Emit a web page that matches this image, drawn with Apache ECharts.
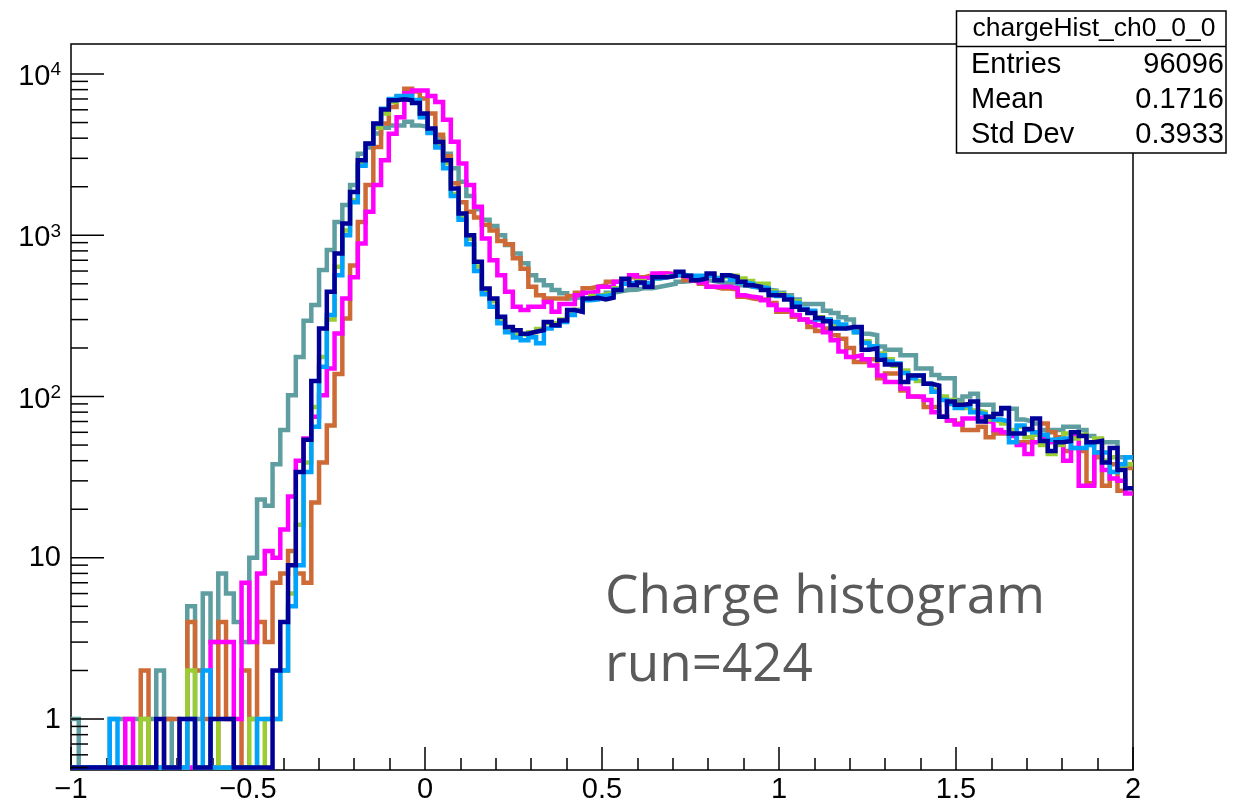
<!DOCTYPE html>
<html>
<head>
<meta charset="utf-8">
<script src="https://cdn.jsdelivr.net/npm/echarts@6/dist/echarts.min.js"></script>
<style>
html,body{margin:0;padding:0;background:#fff;}
#chart{width:1234px;height:802px;}
</style>
</head>
<body>
<div id="chart"></div>
<script>
// ---- histogram binning (bin edges from -1 to 2) ----
const binLow = -1;
const binHigh = 2;
const nBins = 137;

// ---- bin contents (0 = empty bin) ----
const tealCounts = [
  1,0,0,0,0,1,1,1,1,1, 1,2,1,0,0,5,1,6,3,8,
  6,4,3,10,23,21,38,62,102,176, 295,369,608,809,1210,1540,2050,3200,3500,4270,
  4650,4800,4800,5050,4800,4700,4400,4000,3200,2600, 2150,1750,1450,1250,1140,1000,870,771,670,566,
  527,490,457,437,405,415,400,410,420,440, 450,457,460,470,470,479,490,500,515,520,
  527,527,520,510,505,505,490,479,470,460, 455,440,425,400,375,375,375,340,330,310,
  300,260,245,240,204,195,195,180,180,149, 149,136,130,130,95,100,104,89,89,78,
  84,84,72,70,68,62,62,62,65,65, 62,57,52,52,52,42,42
];
const orangeCounts = [
  0,0,0,0,0,0,0,0,0,2, 0,0,1,1,0,4,2,1,0,4,
  1,0,2,1,4,3,7,8,11,8, 7,22,39,66,138,305,650,1210,2050,3530,
  4930,6250,7200,8100,7800,7050,5700,4200,3100,2100, 1600,1400,1290,1160,1070,920,880,720,620,479,
  425,405,405,405,420,440,470,479,490,515, 515,527,550,550,565,580,580,575,560,527,
  515,500,479,468,468,460,415,405,400,400, 380,335,335,312,300,270,255,264,240,228,
  200,164,164,170,130,139,139,109,100,99, 86,86,75,71,68,62,62,65,56,59,
  59,59,52,52,58,68,60,56,46,48, 46,29,42,28,38,26,36
];
const magentaCounts = [
  0,0,0,0,0,0,0,1,0,0, 0,0,0,0,0,0,0,0,3,3,
  3,1,7,3,8,11,10,15,24,40, 55,75,102,149,246,405,550,890,1400,2050,
  2920,4265,5400,7600,7900,7900,7300,6700,5200,3800, 2790,2050,1500,955,700,566,446,360,344,360,
  360,386,335,375,375,425,440,446,479,479, 515,527,566,540,550,580,580,570,560,545,
  527,510,479,479,479,468,425,415,410,395, 370,345,344,320,300,290,277,250,223,190,
  176,180,170,156,135,123,123,112,100,100, 95,80,75,71,67,73,73,75,70,62,
  60,57,50,44,52,55,52,52,40,58, 28,28,45,35,31,30,25
];
const yellowGreenCounts = [
  0,0,0,0,0,0,0,0,0,1, 0,0,0,0,0,2,0,0,1,0,
  0,0,0,1,0,1,1,2,6,16, 39,86,176,300,637,1070,1650,2800,3700,4650,
  5690,6700,7100,7200,6700,5600,4500,3600,2800,1800, 1300,950,640,450,390,300,258,245,240,250,
  262,285,285,300,335,345,400,420,430,440, 470,500,500,520,500,540,555,560,580,560,
  545,550,570,545,560,560,540,520,500,500, 450,430,410,390,345,335,310,300,280,270,
  265,250,220,200,185,170,155,145,135,125, 120,110,100,95,90,85,82,80,72,70,
  68,62,65,56,58,50,44,50,59,55, 58,50,55,40,42,36,38
];
const lightBlueCounts = [
  0,0,0,0,0,1,0,0,0,0, 0,0,0,0,0,1,0,2,0,0,
  0,0,0,0,1,1,1,2,5,9, 34,65,153,320,566,1000,1600,2700,3700,4900,
  6100,7000,7300,7300,6900,5400,4300,3500,2600,1750, 1250,880,600,430,360,285,250,232,223,233,
  214,264,275,290,320,340,395,400,420,430, 460,500,510,500,510,540,550,560,570,560,
  560,560,560,540,560,530,510,500,480,470, 440,420,410,380,350,340,300,300,290,280,
  265,250,215,205,180,165,160,140,130,135, 120,107,95,90,85,88,80,78,75,72,
  70,52,66,62,60,58,54,55,55,48, 48,50,45,45,34,38,42
];
const darkBlueCounts = [
  0,0,0,0,0,0,0,0,0,0, 0,1,0,0,1,1,0,0,1,1,
  1,0,0,0,0,0,2,4,9,34, 54,125,264,446,771,1183,1858,2922,3710,4930,
  6030,6880,6980,6880,6620,5690,4590,3790,2920,1950, 1365,1000,684,468,405,312,270,258,245,252,
  258,290,277,296,344,335,405,410,400,410, 457,537,490,510,479,550,550,560,595,560,
  527,540,580,527,565,550,515,490,479,457, 425,425,400,360,345,330,307,293,264,264,
  270,270,195,199,169,158,158,123,135,135, 120,117,75,93,89,90,93,70,75,78,
  85,59,59,63,73,53,46,52,53,60, 57,52,53,39,48,35,27
];

// ---- axis ticks / labels ----
const xTickValues = [-1, -0.5, 0, 0.5, 1, 1.5, 2];
const xTickLabels = ['\u22121', '\u22120.5', '0', '0.5', '1', '1.5', '2'];
const yMajorTicks = [1, 10, 100, 1000, 10000];
const yMajorBase = ['1', '10', '10', '10', '10'];
const yMajorExp = ['', '', '2', '3', '4'];
const yMinorTicks = [0.5,0.6,0.7,0.8,0.9, 2,3,4,5,6,7,8,9, 20,30,40,50,60,70,80,90,
  200,300,400,500,600,700,800,900, 2000,3000,4000,5000,6000,7000,8000,9000];

// ---- stats box / caption text ----
const statsTitle = 'chargeHist_ch0_0_0';
const statsNames = ['Entries', 'Mean', 'Std Dev'];
const statsValues = ['96096', '0.1716', '0.3933'];
const captionLines = ['Charge histogram', 'run=424'];

// ---- styles (kept apart from data) ----
const seriesStyle = [
  {name: 'teal', color: '#5f9ea0', counts: tealCounts},
  {name: 'orange', color: '#cd6a35', counts: orangeCounts},
  {name: 'magenta', color: '#ff00ff', counts: magentaCounts},
  {name: 'yellowgreen', color: '#9acd32', counts: yellowGreenCounts},
  {name: 'lightblue', color: '#00a2ff', counts: lightBlueCounts},
  {name: 'darkblue', color: '#000099', counts: darkBlueCounts}
];
const Y_MIN = 0.483, Y_MAX = 15350;
const EMPTY_FLOOR = 0.5; // empty bins drawn on the frame bottom (log scale)
const FONT = '"Liberation Sans", Arial, Helvetica, sans-serif';

const binWidth = (binHigh - binLow) / nBins;
function histPoints(counts) {
  const pts = counts.map((c, k) => [binLow + k * binWidth, c > 0 ? c : EMPTY_FLOOR]);
  const last = counts[counts.length - 1];
  pts.push([binHigh, last > 0 ? last : EMPTY_FLOOR]);
  return pts;
}

const histSeries = seriesStyle.map((s, i) => ({
  name: s.name,
  type: 'line',
  step: 'end',
  data: histPoints(s.counts),
  showSymbol: false,
  symbol: 'none',
  clip: true,
  z: 2 + i,
  lineStyle: {color: s.color, width: 4.5, join: 'miter', cap: 'butt'},
  itemStyle: {color: s.color},
  emphasis: {disabled: true},
  animation: false
}));

const minorTickSeries = {
  type: 'custom', coordinateSystem: 'cartesian2d', silent: true, z: 10, clip: false,
  data: yMinorTicks.map(v => [binLow, v]),
  renderItem: (params, api) => {
    const p = api.coord([api.value(0), api.value(1)]);
    return {type: 'line', shape: {x1: p[0], y1: p[1], x2: p[0] + 17, y2: p[1]},
      style: {stroke: '#000', lineWidth: 1.5}};
  },
  animation: false
};

const majorTickSeries = {
  type: 'custom', coordinateSystem: 'cartesian2d', silent: true, z: 10, clip: false,
  data: yMajorTicks.map((v, i) => [binLow, v, i]),
  renderItem: (params, api) => {
    const p = api.coord([api.value(0), api.value(1)]);
    const i = api.value(2);
    const base = yMajorBase[i], exp = yMajorExp[i];
    const children = [{type: 'line', shape: {x1: p[0], y1: p[1], x2: p[0] + 33, y2: p[1]},
      style: {stroke: '#000', lineWidth: 1.5}}];
    if (exp) {
      children.push({type: 'text', style: {text: base, x: p[0] - 20.5, y: p[1] + 3,
        align: 'right', verticalAlign: 'middle', fontSize: 29, fontFamily: FONT, fill: '#000'}});
      children.push({type: 'text', style: {text: exp, x: p[0] - 20.5, y: p[1] - 4,
        align: 'left', verticalAlign: 'middle', fontSize: 19, fontFamily: FONT, fill: '#000'}});
    } else {
      children.push({type: 'text', style: {text: base, x: p[0] - 10, y: p[1] + 0.5,
        align: 'right', verticalAlign: 'middle', fontSize: 29, fontFamily: FONT, fill: '#000'}});
    }
    return {type: 'group', children};
  },
  animation: false
};

const statsGraphics = [
  {type: 'rect', shape: {x: 956.5, y: 11, width: 269.5, height: 142}, z: 100,
    style: {fill: '#fff', stroke: '#000', lineWidth: 1.5}},
  {type: 'line', shape: {x1: 956.5, y1: 46.5, x2: 1226, y2: 46.5}, z: 101,
    style: {stroke: '#000', lineWidth: 1.5}},
  {type: 'text', x: 1094, y: 29, z: 101,
    style: {text: statsTitle, align: 'center', verticalAlign: 'middle', fontSize: 26.5, fontFamily: FONT, fill: '#000'}}
];
statsNames.forEach((n, i) => {
  const y = 65 + i * 34.8;
  statsGraphics.push({type: 'text', x: 971, y: y, z: 101,
    style: {text: n, align: 'left', verticalAlign: 'middle', fontSize: 29, fontFamily: FONT, fill: '#000'}});
  statsGraphics.push({type: 'text', x: 1224, y: y, z: 101,
    style: {text: statsValues[i], align: 'right', verticalAlign: 'middle', fontSize: 29, fontFamily: FONT, fill: '#000'}});
});
captionLines.forEach((t, i) => {
  statsGraphics.push({type: 'text', x: 605, y: 598 + i * 68, z: 50,
    style: {text: t, align: 'left', verticalAlign: 'middle', fontSize: 53, fontFamily: '"Open Sans", "Noto Sans", sans-serif', fill: '#5a5a5a'}});
});

const chart = echarts.init(document.getElementById('chart'), null, {renderer: 'canvas', width: 1234, height: 802});
chart.setOption({
  animation: false,
  backgroundColor: '#ffffff',
  textStyle: {fontFamily: FONT},
  grid: {left: 71, top: 44, width: 1062, height: 726, show: true, borderColor: '#000', borderWidth: 1.5,
    backgroundColor: 'transparent', containLabel: false, outerBoundsMode: 'none'},
  tooltip: {show: false},
  legend: {show: false},
  xAxis: {
    type: 'value', min: -1, max: 2, interval: 0.5,
    axisLine: {show: false},
    axisTick: {show: true, inside: true, length: 23, lineStyle: {color: '#000', width: 1.5}},
    minorTick: {show: true, splitNumber: 5, length: 12, lineStyle: {color: '#000', width: 1.5}},
    splitLine: {show: false}, minorSplitLine: {show: false},
    axisLabel: {show: true, margin: 5, fontSize: 29, fontFamily: FONT, color: '#000',
      showMinLabel: true, showMaxLabel: true, hideOverlap: false,
      formatter: v => { const i = xTickValues.findIndex(t => Math.abs(t - v) < 1e-9); return i >= 0 ? xTickLabels[i] : ''; }}
  },
  yAxis: {
    type: 'log', logBase: 10, min: Y_MIN, max: Y_MAX,
    axisLine: {show: false}, axisTick: {show: false}, axisLabel: {show: false},
    splitLine: {show: false}, minorTick: {show: false}, minorSplitLine: {show: false}
  },
  series: [...histSeries, minorTickSeries, majorTickSeries],
  graphic: statsGraphics
});
</script>
</body>
</html>
